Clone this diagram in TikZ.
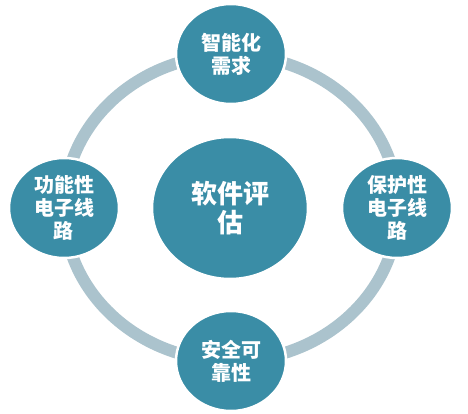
\documentclass[tikz,border=0pt]{standalone}
\usepackage{fontspec}
\usetikzlibrary{shapes.geometric}
\newfontfamily\cjk{Noto Sans CJK SC}
\definecolor{tealc}{HTML}{3A8DA6}
\definecolor{ringc}{HTML}{ABC3CD}
\begin{document}
\begin{tikzpicture}[x=1pt,y=-1pt,
  bub/.style={ellipse, fill=tealc, draw=white, line width=2.5pt, text=white, align=center, inner sep=0pt, font=\cjk\bfseries\fontsize{20}{23}\selectfont},
]
\useasboundingbox[fill=white] (0,0) rectangle (468,414);
\draw[ringc, line width=12pt] (231,208) ellipse [x radius=167, y radius=153];
\node[bub, minimum width=156, minimum height=142, font=\cjk\bfseries\fontsize{26}{29}\selectfont] (c) at (230,208) {软件评\\估};
\node[bub, minimum width=110, minimum height=100] (t) at (231,54) {智能化\\需求};
\node[bub, minimum width=110, minimum height=100] (l) at (64,208) {功能性\\电子线\\路};
\node[bub, minimum width=110, minimum height=100] (r) at (397,208) {保护性\\电子线\\路};
\node[bub, minimum width=110, minimum height=100] (b) at (231,361) {安全可\\靠性};
\end{tikzpicture}
\end{document}
